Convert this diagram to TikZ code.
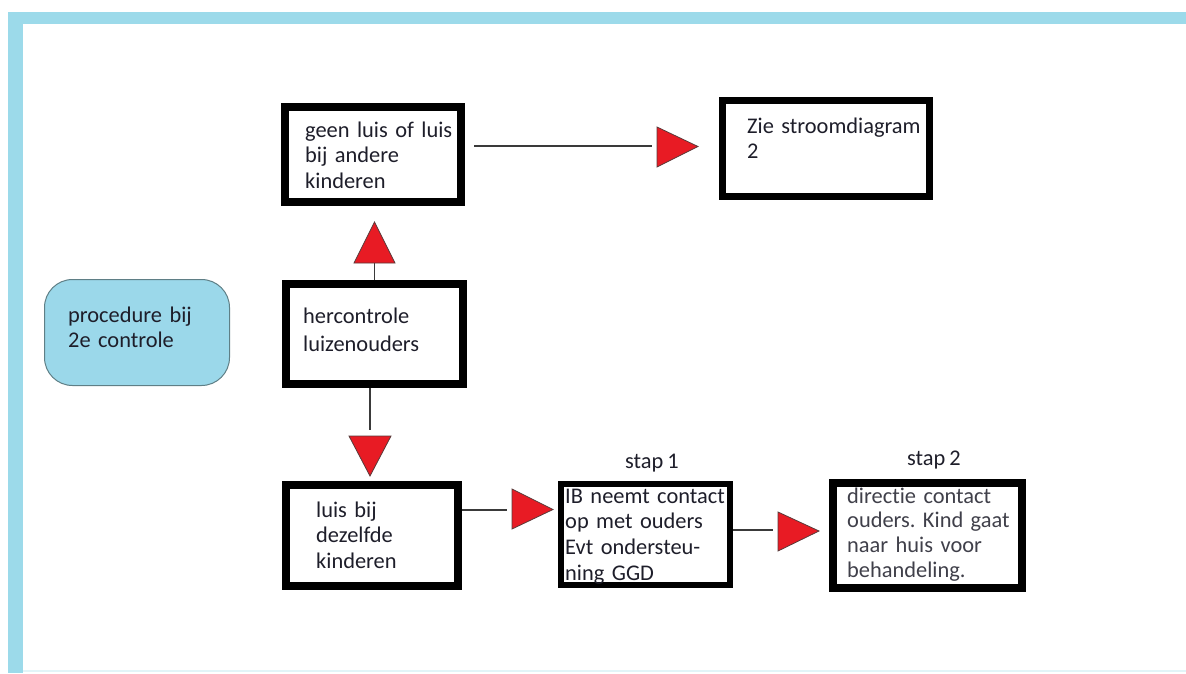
\documentclass[tikz,border=0pt]{standalone}
\usepackage{fontspec}
\setmainfont{Carlito}[Ligatures={CommonOff}, WordSpace=0.8]
\frenchspacing
\definecolor{frame}{HTML}{9CDAEA}
\definecolor{faint}{HTML}{E2F4F8}
\definecolor{bluefill}{HTML}{9BD8EA}
\definecolor{blueedge}{HTML}{5F7F86}
\definecolor{arrred}{HTML}{E81B24}
\definecolor{triedge}{HTML}{5A3A3A}
\definecolor{linecol}{HTML}{3A3A3A}
\definecolor{txtcol}{HTML}{1E1E2A}
\begin{document}
\begin{tikzpicture}[x=1pt,y=-1pt,
  box/.style={draw=black, fill=white, rectangle, inner sep=0pt},
  txt/.style={anchor=base west, inner sep=0pt, text width=220pt, align=left, text=txtcol, font=\frenchspacing\fontsize{22.4}{25.6}\selectfont},
  lbl/.style={anchor=base, inner sep=0pt, text=txtcol, font=\fontsize{22.4}{25.6}\selectfont},
  tri/.style={fill=arrred, draw=triedge, line width=0.8pt, line join=miter},
  conn/.style={draw=linecol, line width=1.3pt},
  bluebox/.style={draw=blueedge, fill=bluefill, line width=1pt, rounded corners=28pt, inner sep=0pt}
]
\useasboundingbox (0,0) rectangle (1186,673);
% frame
\fill[frame] (8,12) rectangle (1186,24);
\fill[frame] (8,12) rectangle (23,673);
\fill[faint] (23,670) rectangle (1186,672);

% boxes
\node[box, line width=8pt, minimum width=176pt, minimum height=95pt] (a) at (373,154.5) {};
\node[box, line width=7pt, minimum width=207pt, minimum height=96pt] (b) at (826,148.5) {};
\node[bluebox, minimum width=185pt, minimum height=106pt] (p) at (137,332.5) {};
\node[box, line width=8pt, minimum width=177pt, minimum height=100pt] (c) at (374.5,334) {};
\node[box, line width=8pt, minimum width=172pt, minimum height=101pt] (d) at (372,535.5) {};
\node[box, line width=6pt, minimum width=169pt, minimum height=101pt] (e) at (645.5,534.5) {};
\node[box, line width=8pt, minimum width=189pt, minimum height=105pt] (f) at (927.5,535.5) {};

% texts
\node[txt] (ta) at (305,137) {geen luis of luis\\bij andere\\kinderen};
\node[txt] (tb) at (747,133) {Zie stroomdiagram\\2};
\node[txt] (tp) at (68,322) {procedure bij\\2e controle};
\node[txt, font=\fontsize{22.4}{28.5}\selectfont] (tc) at (303,323) {hercontrole\\luizenouders};
\node[txt] (td) at (316,517) {luis bij\\dezelfde\\kinderen};
\node[txt, font=\fontsize{22.4}{25.7}\selectfont] (te) at (565,503) {IB neemt contact\\op met ouders\\Evt ondersteu-\\ning GGD};
\node[txt, text=txtcol!85, font=\frenchspacing\fontsize{22.4}{24.8}\selectfont] (tf) at (847,503) {directie contact\\ouders. Kind gaat\\naar huis voor\\behandeling.};
\node[lbl] (s1) at (652,468) {stap 1};
\node[lbl] (s2) at (934,465) {stap 2};

% arrowhead positions
\coordinate (t1) at (657,146);
\coordinate (tu) at (374.5,263);
\coordinate (tdn) at (370,436);
\coordinate (t2) at (512,510);
\coordinate (t3) at (778,530);

% connectors
\draw[conn, shorten <=9pt, shorten >=5pt] (a.east |- t1) -- (t1);
\draw[conn] (c.north) -- (tu);
\draw[conn, shorten >=6pt] (c.south -| tdn) -- (tdn);
\draw[conn, shorten >=5pt] (d.east |- t2) -- (t2);
\draw[conn, shorten >=5pt] (e.east |- t3) -- (t3);

% triangles
\draw[tri] (657,127) -- (698,146.5) -- (657,167) -- cycle;
\draw[tri] (354,263) -- (395,263) -- (374.5,222) -- cycle;
\draw[tri] (349,436) -- (391,436) -- (370,476) -- cycle;
\draw[tri] (512,489) -- (553,509.5) -- (512,529) -- cycle;
\draw[tri] (778,512) -- (819,531) -- (778,551) -- cycle;
\end{tikzpicture}
\end{document}
